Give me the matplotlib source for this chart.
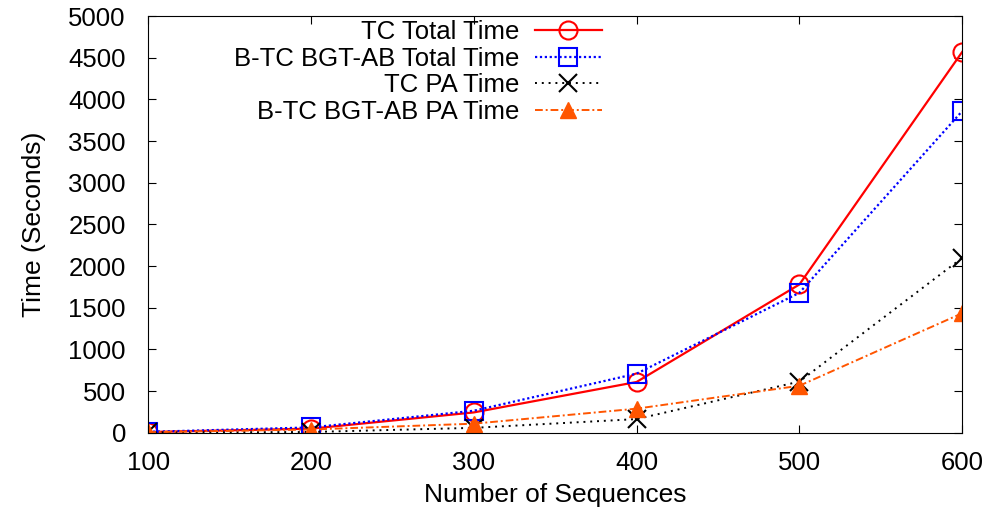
import matplotlib
matplotlib.use("Agg")
import matplotlib.pyplot as plt

plt.rcParams["font.family"] = ["Liberation Sans", "DejaVu Sans"]

sequences = [100, 200, 300, 400, 500, 600]
tc_total = [10, 50, 245, 610, 1780, 4570]
btc_total = [12, 65, 265, 710, 1680, 3860]
tc_pa = [5, 10, 60, 165, 615, 2100]
btc_pa = [8, 40, 110, 290, 565, 1435]

fig = plt.figure(figsize=(9.94, 5.19), dpi=100)
ax = fig.add_axes([0.149, 0.166, 0.819, 0.803])

ax.plot(sequences, tc_total, color="#ff0000", lw=1.6, ls="-",
        marker="o", ms=13, mfc="none", mew=1.5, label="TC Total Time")
ax.plot(sequences, btc_total, color="#0000ff", lw=1.6, ls=(0, (1, 1.2)),
        marker="s", ms=13, mfc="none", mew=1.5, label="B-TC BGT-AB Total Time")
ax.plot(sequences, tc_pa, color="black", lw=1.4, ls=(0, (1, 2.5)),
        marker="x", ms=13, mew=1.5, label="TC PA Time")
ax.plot(sequences, btc_pa, color="#ff5500", lw=1.4, ls=(0, (4, 1.5, 1, 1.5)),
        marker="^", ms=12, label="B-TC BGT-AB PA Time")

ax.set_xlim(100, 600)
ax.set_ylim(0, 5000)
ax.set_xticks(sequences)
ax.set_yticks(range(0, 5001, 500))
ax.tick_params(direction="in", top=True, right=True, labelsize=18.5, length=6)
ax.tick_params(axis="x", pad=13)
ax.tick_params(axis="y", pad=16)
ax.set_xlabel("Number of Sequences", fontsize=19, labelpad=6)
ax.set_ylabel("Time (Seconds)", fontsize=19, labelpad=16)

ax.legend(loc="upper right", bbox_to_anchor=(0.57, 1.015), markerfirst=False,
          frameon=False, fontsize=18.5, handlelength=2.6, labelspacing=0.1,
          borderaxespad=0.0, handletextpad=0.6)

fig.savefig("out.png", dpi=100)
